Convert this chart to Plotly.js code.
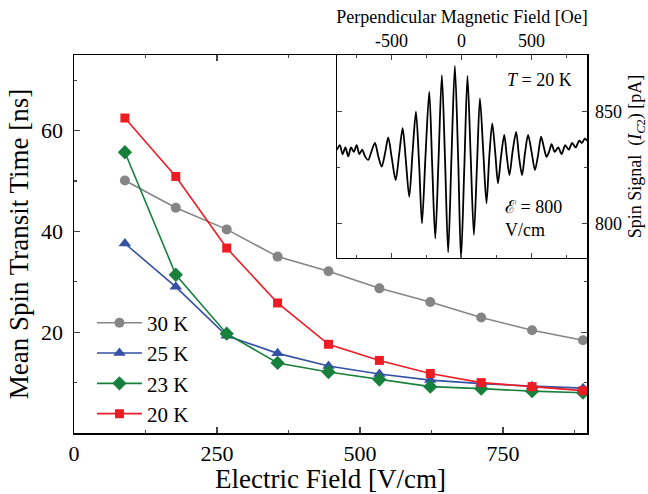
<!DOCTYPE html>
<html>
<head>
<meta charset="utf-8">
<script src="https://cdn.plot.ly/plotly-3.0.1.min.js"></script>
<style>html,body{margin:0;padding:0;background:#fff;}</style>
</head>
<body>
<div id="chart" style="width:648px;height:494px;"></div>
<script>
// Main panel data
const fieldE = [89, 178, 267, 356, 445, 534, 623, 712, 801, 890];
const t30K = [50.1, 44.7, 40.4, 35.0, 32.1, 28.7, 26.0, 22.9, 20.4, 18.4];
const t25K = [37.6, 29.0, 19.3, 15.8, 13.3, 11.7, 10.5, 9.8, 9.3, 8.9];
const t23K = [55.7, 31.4, 19.7, 13.9, 12.1, 10.6, 9.2, 8.8, 8.3, 8.0];
const t20K = [62.5, 50.9, 36.7, 25.8, 17.6, 14.4, 11.8, 10.0, 9.2, 8.4];
const seriesNames = ["30 K", "25 K", "23 K", "20 K"];
const xTickVals = [0, 250, 500, 750];
const yTickVals = [20, 40, 60];

// Inset data (perpendicular magnetic field in Oe, spin signal in pA)
const fieldB = [-890,-870,-850,-830,-810,-790,-770,-750,-730,-710,-690,-667,-645,-619,-595,-571,-545,-524,-498,-471,-446,-421,-398,-374,-350,-326,-303,-283,-258,-231,-210,-188,-165,-141,-118,-96,-72,-48,-24,-4,20,42,65,88,110,131,155,178,198,219,240,260,282,305,323,342,364,390,410,432,452,475,500,524,545,568,588,607,625,643,665,690,715,740,765,790,815,840,860,880,896];
const signal = [833,835,831,834,830,834,832,835,831,833,830,828.4,832,836,830,825.4,832,838.5,829,819.4,831,842.6,828,811.9,832,850,826,800,830,859,826,793.3,828,866.4,828,787,830,870.5,828,784,826,866,830,794.8,826,856,832,809,830,844.8,832,818,830,839.6,830,821.6,832,841,830,821.6,831,839.6,832,823.9,830,838.8,834,829.8,832,835.5,832,834,831,835,833,836,834,837,836,838,837];
const bTickVals = [-500, 0, 500];
const bTickText = ["-500", "0", "500"];
const sTickVals = [800, 850];

const colors = ["#858585", "#3451a3", "#16803c", "#ed1c24"];
const symbols = ["circle", "triangle-up", "diamond", "square"];
const sizes = [10, 11, 11, 9];
const ys = [t30K, t25K, t23K, t20K];

const traces = ys.map((y, i) => ({
  x: fieldE, y: y, type: "scatter", mode: "lines+markers",
  name: seriesNames[i],
  line: {color: colors[i], width: 1.6},
  marker: {color: colors[i], symbol: symbols[i], size: sizes[i]},
  xaxis: "x", yaxis: "y"
}));

traces.push({
  x: fieldB, y: signal, type: "scatter", mode: "lines",
  line: {color: "#000", width: 1.8, shape: "spline", smoothing: 0.8},
  showlegend: false, xaxis: "x2", yaxis: "y2", hoverinfo: "skip"
});

const serif = "Liberation Serif, Times New Roman, serif";

const layout = {
  width: 648, height: 494,
  margin: {l: 74, r: 61, t: 55, b: 61},
  paper_bgcolor: "#fff", plot_bgcolor: "#fff",
  font: {family: serif, color: "#000"},
  showlegend: true,
  legend: {x: 0.035, y: 0.345, xanchor: "left", yanchor: "top",
           font: {family: serif, size: 21}, bgcolor: "rgba(0,0,0,0)",
           tracegroupgap: 0, itemwidth: 45},
  xaxis: {
    domain: [0, 1], range: [0, 897], anchor: "y",
    tickvals: xTickVals, ticks: "inside", ticklen: 6, tickwidth: 1.2,
    showline: true, linecolor: "#000", linewidth: 1.5, mirror: "ticks",
    showgrid: false, zeroline: false,
    tickfont: {family: serif, size: 22},
    minor: {dtick: 125, tick0: 0, ticks: "inside", ticklen: 3, showgrid: false},
    title: {text: "Electric Field [V/cm]", font: {family: serif, size: 27}, standoff: 2}
  },
  yaxis: {
    domain: [0, 1], range: [0, 75], anchor: "x",
    tickvals: yTickVals, ticks: "inside", ticklen: 6, tickwidth: 1.2,
    showline: true, linecolor: "#000", linewidth: 1.5, mirror: "ticks",
    showgrid: false, zeroline: false, ticklabelstandoff: 5,
    tickfont: {family: serif, size: 22},
    minor: {dtick: 10, tick0: 0, ticks: "inside", ticklen: 3, showgrid: false},
    title: {text: "Mean Spin Transit Time [ns]", font: {family: serif, size: 27}, standoff: 4}
  },
  xaxis2: {
    domain: [0.5127, 1], range: [-890, 896], anchor: "y2", side: "top",
    tickvals: bTickVals, ticktext: bTickText, ticks: "inside", ticklen: 5, tickwidth: 1,
    showline: true, linecolor: "#000", linewidth: 1.3, mirror: "ticks",
    showgrid: false, zeroline: false,
    tickfont: {family: serif, size: 18},
    minor: {dtick: 250, tick0: 0, ticks: "inside", ticklen: 3, showgrid: false},
    title: {text: "Perpendicular Magnetic Field [Oe]", font: {family: serif, size: 18}, standoff: 2}
  },
  yaxis2: {
    domain: [0.463, 1], range: [784.5, 875.4], anchor: "x2", side: "right",
    tickvals: sTickVals, ticks: "inside", ticklen: 5, tickwidth: 1,
    showline: true, linecolor: "#000", linewidth: 1.3, mirror: "ticks",
    showgrid: false, zeroline: false, ticklabelstandoff: 3,
    tickfont: {family: serif, size: 18},
    minor: {dtick: 25, tick0: 0, ticks: "inside", ticklen: 3, showgrid: false},
    title: {text: "Spin Signal  (<i>I</i><sub><i>C</i>2</sub>) [pA]", font: {family: serif, size: 18}, standoff: 11}
  },
  annotations: [
    {xref: "x2", yref: "y2", x: 800, y: 864.2, xanchor: "right", yanchor: "middle",
     text: "<i>T</i> = 20 K", showarrow: false, font: {family: serif, size: 18}},
    {xref: "x2", yref: "y2", x: 295, y: 807.3, xanchor: "left", yanchor: "middle",
     text: "ℰ = 800", showarrow: false, font: {family: serif, size: 18}},
    {xref: "x2", yref: "y2", x: 295, y: 797, xanchor: "left", yanchor: "middle",
     text: "V/cm", showarrow: false, font: {family: serif, size: 18}}
  ]
};

Plotly.newPlot("chart", traces, layout, {displayModeBar: false, staticPlot: true});
</script>
</body>
</html>
